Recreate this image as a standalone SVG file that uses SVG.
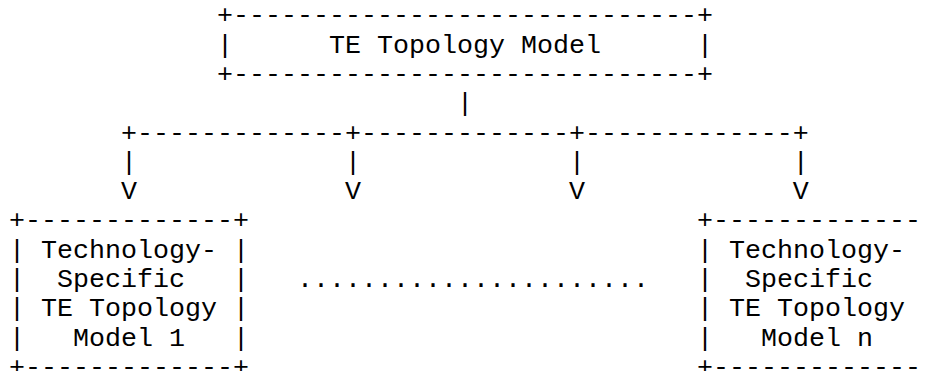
<svg xmlns="http://www.w3.org/2000/svg" width="926" height="371" viewBox="0 0 926 371" xml:space="preserve">
<style>
text { font-family: "Liberation Mono", "Courier New", monospace; font-size: 26.667px; fill: #000; white-space: pre; }
</style>
<rect width="926" height="371" fill="#fff"/>
<g id="top-model">
<text x="217" y="23.3">+-----------------------------+</text>
<text x="217" y="52.6">|      TE Topology Model      |</text>
<text x="217" y="81.9">+-----------------------------+</text>
</g>
<g id="connectors">
<text x="457" y="111.2">|</text>
<text x="121" y="140.5">+-------------+-------------+-------------+</text>
<text x="121" y="169.8">|             |             |             |</text>
<text x="121" y="199.1">V             V             V             V</text>
</g>
<g id="tech-model-1">
<text x="9" y="228.4">+-------------+</text>
<text x="9" y="257.7">| Technology- |</text>
<text x="9" y="287">|  Specific   |</text>
<text x="9" y="316.3">| TE Topology |</text>
<text x="9" y="345.6">|   Model 1   |</text>
<text x="9" y="374.9">+-------------+</text>
</g>
<g id="ellipsis">
<text x="297" y="287">......................</text>
</g>
<g id="tech-model-n">
<text x="697" y="228.4">+-------------</text>
<text x="697" y="257.7">| Technology-</text>
<text x="697" y="287">|  Specific</text>
<text x="697" y="316.3">| TE Topology</text>
<text x="697" y="345.6">|   Model n</text>
<text x="697" y="374.9">+-------------</text>
</g>
</svg>
